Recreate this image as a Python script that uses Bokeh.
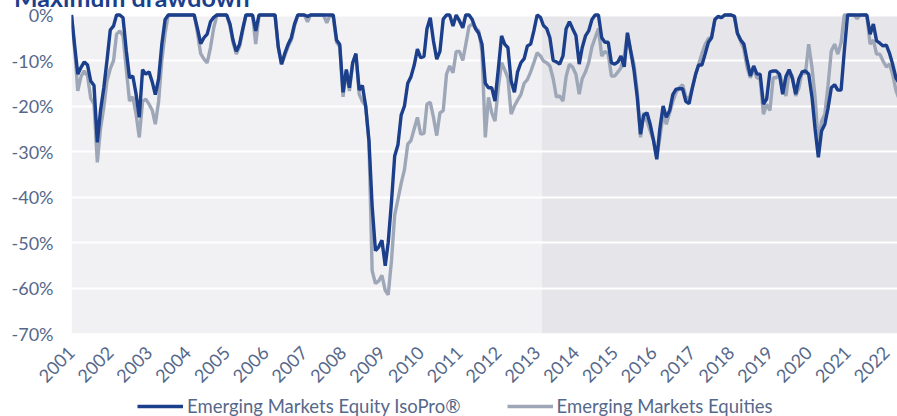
import pandas as pd
from math import pi
from bokeh.plotting import figure
from bokeh.layouts import column
from bokeh.models import (BoxAnnotation, Legend, LegendItem, FixedTicker, Div,
                          DatetimeTickFormatter, Range1d, ColumnDataSource)
from bokeh.embed import file_html
from bokeh.resources import INLINE

# ---------------- data (monthly maximum drawdown, %) ----------------
first_month = "2001-01-01"

isopro = [
    0, -7, -13, -11.5, -10.3, -11, -14.5, -15.5, -28, -21, -16, -10,
    -3.3, -2.4, 0, 0, -0.6, -7.9, -13.8, -13.4, -17.4, -22.5, -12, -13,
    -12.5, -14.8, -17.5, -14, -6.5, -1, 0, 0, 0, 0, 0, 0,
    0, 0, 0, -3, -6.3, -5, -4.2, -1.5, -0.5, 0, 0, 0,
    0, -2, -5.5, -8, -6.5, -3, 0, 0, 0, -3.5, 0, 0,
    0, 0, 0, 0, -7, -10.8, -8.5, -6.5, -5, -2, 0, 0,
    0, -0.3, 0, 0, 0, 0, 0, 0, 0, 0, -5.5, -6.5,
    -17, -12, -16, -10.5, -8.5, -16.5, -15.5, -20, -27.6, -42, -51.8, -51,
    -49.5, -55.1, -50, -41, -31, -28.5, -22, -20, -15, -13.6, -11, -7.5,
    -9.4, -9.1, -3, -0.6, -5.7, -9.7, -8, -0.9, 0, 0, -2.4, 0,
    -1.3, -2.8, 0, 0, -1, -3, -4, -6.4, -15, -16, -16, -18.9,
    -12, -4.6, -6.4, -7.2, -14.5, -17, -12.5, -10.5, -9.6, -6.8, -6.4, -3.5,
    0, -0.5, -2.3, -3, -5, -10, -10.3, -10.8, -9, -3, -1.5, -3,
    -4.5, -10.8, -7.2, -4.6, -3.5, -1, 0, 0, -5, -6, -6, -10.5,
    -10.8, -10.3, -9, -11.4, -3.9, -8, -12, -18, -26.2, -22, -21.5, -24,
    -27.5, -31.7, -25, -20, -22.5, -21, -17.5, -16.3, -16.2, -16.2, -19, -19.5,
    -16, -13, -11, -11, -8.6, -6, -5, -1, -0.3, -0.6, 0, 0,
    0, -0.3, -4, -5.5, -6.4, -10.1, -13.4, -11.2, -13, -13, -19.6, -18.5,
    -12.5, -12.3, -12.3, -13, -17.4, -13.5, -12, -14, -17.4, -14, -12.5, -12.3,
    -13, -18, -25, -31.3, -25.5, -24, -20.5, -16, -15.3, -16.5, -16.5, -8,
    0, 0, 0, 0, 0, 0, 0, -4.2, -2, -5.7, -6.2, -6.8,
    -6.6, -8.5, -10.8, -13.8, -15,
]

em_equities = [
    0, -8, -16.7, -13.5, -12.3, -13.4, -18.3, -19.6, -32.4, -25, -20.3, -14.5,
    -11.8, -10, -4.2, -3.5, -4.6, -12, -18.9, -18, -21.8, -26.9, -19, -18.5,
    -19.6, -21, -24, -19, -10, -4, 0, 0, 0, 0, 0, 0,
    0, 0, 0, -4, -8.5, -9.7, -10.5, -7.2, -2.8, 0, 0, 0,
    0, -2.5, -6, -8.6, -7, -3.5, 0, 0, 0, -6.4, 0, 0,
    0, 0, 0, 0, -7, -10.8, -9, -7, -5.5, -2.5, 0, 0,
    0, -1.5, 0, 0, 0, 0, 0, -1.7, 0, -0.5, -6, -7,
    -18, -12.3, -16.7, -10.5, -8.6, -17.4, -19, -20, -28, -56.2, -59, -58.5,
    -57.2, -60.5, -61.5, -54, -44, -40.5, -37, -34, -28.4, -27.6, -25, -22.5,
    -26.2, -26, -19.6, -19.2, -22.5, -26.5, -21.5, -21, -13, -11.2, -12.7, -8,
    -8, -10, -6.5, -2.5, -2, -2.8, -3.5, -8, -26.9, -18.1, -21.5, -23.3,
    -16, -10.5, -12, -13.8, -21.8, -20, -18.7, -17.5, -15, -14.2, -12.5, -10.5,
    -8.3, -9, -10.1, -10.5, -11.2, -14, -18, -17.8, -18.9, -13.5, -10.8, -11.5,
    -13, -17.4, -14, -12.5, -10.5, -7, -5, -3, -9, -8, -8.5, -13.4,
    -13.4, -12.5, -11.6, -9, -4.2, -7.9, -10.8, -16.7, -26.9, -21.5, -23.3, -25.5,
    -27.5, -31.3, -27, -21.8, -24, -21.5, -19, -17, -16, -15.3, -18, -18.5,
    -16, -13, -10.8, -8.5, -6.5, -5.2, -4.8, -1, -0.3, -0.6, 0, 0,
    0, -0.3, -4, -5.8, -7.5, -11.6, -13.8, -11.9, -13.8, -14.1, -21.8, -19.6,
    -21, -13.8, -13.8, -13, -15, -17.8, -12.3, -13.5, -17.8, -16, -12.3, -13,
    -6.4, -11.5, -18, -28.4, -23.3, -21.8, -15.5, -7.9, -6.4, -8.6, -6.1, 0,
    0, 0, 0, -0.8, 0, 0, 0, -6.4, -5.5, -8.6, -8.6, -10.1,
    -11.4, -10.8, -13, -16.5, -18.5,
]

chart_title = "Maximum drawdown"
series_names = ["Emerging Markets Equity IsoPro®", "Emerging Markets Equities"]
year_ticks = list(range(2001, 2023))
y_ticks = [-70, -60, -50, -40, -30, -20, -10, 0]
y_tick_labels = ["-70%", "-60%", "-50%", "-40%", "-30%", "-20%", "-10%", "0%"]
shade_start = "2013-02-15"
x_start = "2001-01-01"
x_end = "2022-04-16"

# ---------------- style ----------------
BLUE = "#1c3f8c"
GREY = "#9ea7b7"
TXT = "#56688a"
FONT = "Lato"
W = 897
LEFT = 71                       # frame left edge (stacked figures share it)
MAIN_H, LEG_H = 396, 20


def ms(d):
    return pd.Timestamp(d).value / 1e6


# ---------------- title (only its lower part shows at the very top) ----------------
title = Div(
    text=(f'<div style="position:relative; top:-20px; left:9px; white-space:nowrap; '
          f'font-family:{FONT}; font-weight:bold; font-size:25px; line-height:1; '
          f'color:{BLUE};">{chart_title}</div>'),
    width=W, height=12,
    styles={"position": "absolute", "top": "0px", "left": "0px",
            "z-index": "5", "overflow": "visible"})

# ---------------- main chart ----------------
dates = pd.date_range(first_month, periods=len(isopro), freq="MS")
src = ColumnDataSource(dict(date=dates, iso=isopro, em=em_equities))

p = figure(width=W, height=MAIN_H, x_axis_type="datetime",
           output_backend="svg", toolbar_location=None,
           x_range=Range1d(ms(x_start), ms(x_end)),
           y_range=Range1d(-70, 0.55))
p.min_border_left = LEFT
p.min_border_right = 0
p.min_border_top = 12
p.min_border_bottom = 63
p.outline_line_color = None
p.background_fill_color = "white"
p.border_fill_color = None

p.add_layout(BoxAnnotation(left=ms(x_start), right=ms(shade_start), bottom=-70, top=0,
                           fill_color="#f1f1f4", fill_alpha=1, line_color=None, level="image"))
p.add_layout(BoxAnnotation(left=ms(shade_start), right=ms(x_end), bottom=-70, top=0,
                           fill_color="#e5e5ea", fill_alpha=1, line_color=None, level="image"))

p.xgrid.visible = False
p.ygrid.ticker = FixedTicker(ticks=y_ticks[1:])
p.ygrid.grid_line_color = "white"
p.ygrid.grid_line_width = 2

p.line("date", "em", source=src, color=GREY, line_width=3.4)
p.line("date", "iso", source=src, color=BLUE, line_width=3.4)

p.yaxis.ticker = FixedTicker(ticks=y_ticks)
p.yaxis.major_label_overrides = {t: l for t, l in zip(y_ticks, y_tick_labels)}
p.xaxis.ticker = FixedTicker(ticks=[ms(f"{y}-01-01") for y in year_ticks])
p.xaxis.formatter = DatetimeTickFormatter(years="%Y", months="%Y", days="%Y")
p.xaxis.major_label_orientation = pi / 4

for ax in (p.xaxis, p.yaxis):
    ax.axis_line_color = None
    ax.major_tick_line_color = None
    ax.minor_tick_line_color = None
    ax.major_tick_out = 0
    ax.major_tick_in = 0
    ax.major_label_text_color = TXT
    ax.major_label_text_font = FONT
p.yaxis.major_label_text_font_size = "18px"
p.xaxis.major_label_text_font_size = "18px"
p.yaxis.major_label_standoff = 18
p.xaxis.major_label_standoff = 16

# ---------------- legend strip ----------------
lf = figure(width=W, height=LEG_H, output_backend="svg", toolbar_location=None,
            x_axis_location=None, y_axis_location=None,
            x_range=Range1d(0, 1), y_range=Range1d(0, 1))
lf.min_border = 0
lf.min_border_left = LEFT
lf.outline_line_color = None
lf.grid.visible = False
nan = float("nan")
g_iso = lf.line([nan], [nan], color=BLUE, line_width=3.4)
g_em = lf.line([nan], [nan], color=GREY, line_width=3.4)
legend = Legend(items=[LegendItem(label=series_names[0], renderers=[g_iso]),
                       LegendItem(label=series_names[1], renderers=[g_em])],
                orientation="horizontal", location=(137 - LEFT, -1),
                glyph_width=46, glyph_height=20, label_standoff=4, spacing=46,
                padding=0, margin=0,
                border_line_color=None, background_fill_alpha=0,
                label_text_font=FONT, label_text_font_size="18.5px",
                label_text_color=TXT)
lf.add_layout(legend, "center")

layout = column(title, p, lf, spacing=0)
open("out.html", "w").write(file_html(layout, INLINE))
